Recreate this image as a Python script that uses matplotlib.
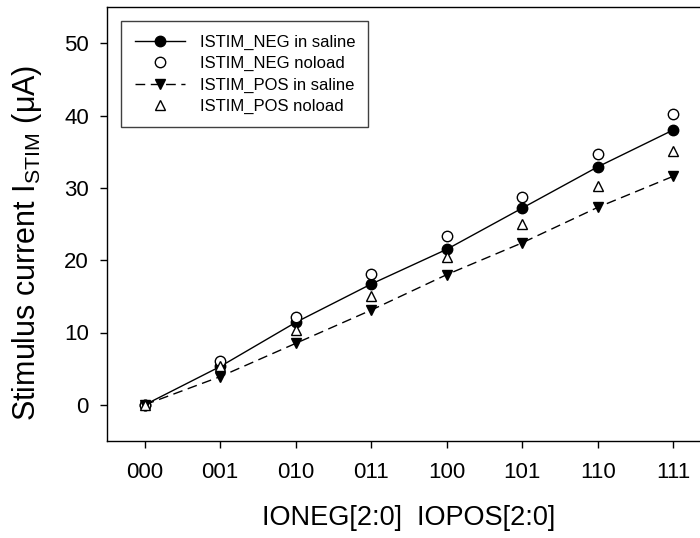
import matplotlib
matplotlib.use("Agg")
import matplotlib.pyplot as plt
import numpy as np

plt.rcParams['font.family'] = ['Liberation Sans', 'DejaVu Sans']
plt.rcParams['mathtext.default'] = 'regular'

codes = ["000", "001", "010", "011", "100", "101", "110", "111"]
neg_saline = [0.0, 5.3, 11.4, 16.7, 21.5, 27.2, 32.9, 38.0]
neg_noload = [0.0, 6.0, 12.1, 18.1, 23.3, 28.8, 34.7, 40.2]
pos_saline = [0.0, 3.9, 8.5, 13.1, 18.0, 22.4, 27.3, 31.6]
pos_noload = [0.0, 5.3, 10.3, 15.1, 20.4, 25.0, 30.2, 35.1]

fig = plt.figure(figsize=(7.0, 5.38), dpi=100)
ax = fig.add_axes([107 / 700, 97 / 538, 604 / 700, 434 / 538])

x = np.arange(len(codes))
ms = 7.5
ax.plot(x, neg_saline, color='black', lw=1.0, marker='o', ms=ms,
        mfc='black', mec='black', label='ISTIM_NEG in saline', zorder=3)
ax.plot(x, neg_noload, ls='none', marker='o', ms=ms, mfc='white',
        mec='black', mew=1.0, label='ISTIM_NEG noload', zorder=3)
ax.plot(x, pos_saline, color='black', lw=1.0, ls=(0, (7, 4)), marker='v',
        ms=ms, mfc='black', mec='black', label='ISTIM_POS in saline', zorder=3)
ax.plot(x, pos_noload, ls='none', marker='^', ms=ms, mfc='white',
        mec='black', mew=1.0, label='ISTIM_POS noload', zorder=4)

ax.set_xlim(-0.5, 7.5)
ax.set_ylim(-5, 55)
ax.set_xticks(x)
ax.set_xticklabels(codes)
ax.set_yticks([0, 10, 20, 30, 40, 50])
ax.tick_params(axis='both', direction='out', length=5, width=1,
               labelsize=16, color='black')
ax.tick_params(axis='x', pad=10)
ax.tick_params(axis='y', pad=8)
for s in ax.spines.values():
    s.set_linewidth(1.0)
    s.set_color('black')

ax.set_xlabel('IONEG[2:0]  IOPOS[2:0]', fontsize=19.5)
ax.xaxis.set_label_coords(0.5, -0.147)
ax.set_ylabel('Stimulus current I$_{STIM}$ (\u03bcA)', fontsize=22)
ax.yaxis.set_label_coords(-0.104, 0.457)

leg = ax.legend(loc='upper left', fontsize=12, handlelength=3.0,
                handletextpad=0.9, labelspacing=0.38, borderpad=0.8,
                borderaxespad=0.85, fancybox=False, framealpha=1,
                edgecolor='#404040')
leg.get_frame().set_linewidth(1.0)

fig.savefig('out.png', dpi=100)
